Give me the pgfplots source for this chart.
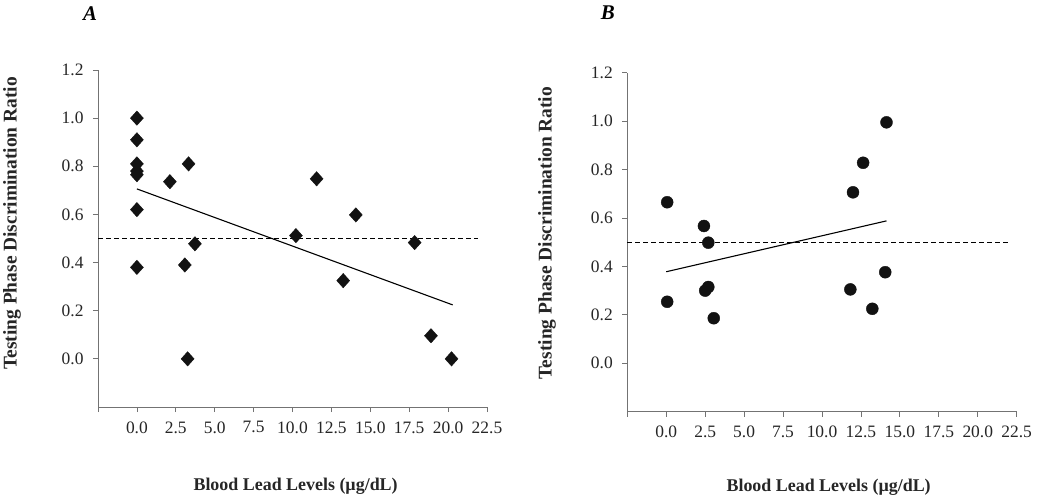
\documentclass[border=0pt]{standalone}
\usepackage{pgfplots}
\pgfplotsset{compat=1.18}
\usepackage{fontspec}
\setmainfont{Liberation Serif}
\definecolor{axgray}{gray}{0.45}
\definecolor{markc}{gray}{0.07}
\begin{document}
\begin{tikzpicture}
\useasboundingbox (0bp,0bp) rectangle (1050bp,498bp);
\pgfplotsset{
  myax/.style={
    scale only axis,
    axis lines*=left,
    xmin=-2.5, xmax=22.5, ymin=-0.2, ymax=1.2,
    xtick={0,2.5,5,7.5,10,12.5,15,17.5,20,22.5},
    extra x ticks={-2.5}, extra x tick labels={},
    ytick={0,0.2,0.4,0.6,0.8,1.0,1.2},
    tick align=outside,
    major tick length=5bp,
    every tick/.style={axgray, line width=0.8bp},
    axis line style={axgray, line width=0.9bp},
    /pgf/number format/assume math mode=true,
    /pgf/number format/.cd, fixed, fixed zerofill, precision=1, /pgfplots/.cd,
    ticklabel style={font=\fontsize{17.5}{19}\selectfont, text=black!85},
    xticklabel style={yshift=-6bp},
    yticklabel style={xshift=-6bp},
    xlabel style={font=\fontsize{18}{20}\selectfont\bfseries, text=black!85},
    ylabel style={font=\fontsize{19.5}{21}\selectfont\bfseries, text=black!85},
    clip=false,
  }
}
\begin{axis}[myax, at={(98bp,91bp)}, anchor=south west, width=389bp, height=337bp,
  xlabel={Blood Lead Levels (µg/dL)},
  ylabel={Testing Phase Discrimination Ratio},
  xlabel style={at={(axis description cs:0.508,-0.236)}, anchor=center},
  ylabel style={at={(axis description cs:-0.221,0.545)}, anchor=center},
]
\addplot[only marks, mark=diamond*, mark size=7.2bp, mark options={fill=markc, draw=markc, xscale=1.2}] coordinates {
(0,1.00) (0,0.91) (0,0.81) (0,0.78) (0,0.765) (0,0.62) (0,0.38)
(2.12,0.736) (3.32,0.81) (3.08,0.39) (3.73,0.478) (3.26,0.0)
(10.22,0.512) (11.55,0.748) (13.26,0.325) (14.07,0.598)
(17.85,0.483) (18.9,0.096) (20.22,0.0)
};
\addplot[black, line width=1.1bp, no marks] coordinates {(0,0.706) (20.3,0.224)};
\addplot[black, line width=0.9bp, no marks, dash pattern=on 5bp off 3bp] coordinates {(-2.5,0.5) (21.9,0.5)};
\node[font=\fontsize{21}{23}\selectfont\bfseries\itshape] at (axis description cs:-0.02,1.166) {A};
\end{axis}
\begin{axis}[myax, at={(627.3bp,86.3bp)}, anchor=south west, width=389.4bp, height=339bp,
  xlabel={Blood Lead Levels (µg/dL)},
  ylabel={Testing Phase Discrimination Ratio},
  xlabel style={at={(axis description cs:0.517,-0.223)}, anchor=center},
  ylabel style={at={(axis description cs:-0.206,0.527)}, anchor=center},
]
\addplot[only marks, mark=*, mark size=6bp, mark options={fill=markc, draw=markc}] coordinates {
(0.06,0.665) (0.06,0.254) (2.42,0.567) (2.70,0.498) (2.5,0.30) (2.7,0.315)
(3.05,0.186) (11.82,0.305) (11.99,0.706) (12.64,0.828) (13.23,0.225)
(14.06,0.376) (14.14,0.995)
};
\addplot[black, line width=1.1bp, no marks] coordinates {(0,0.378) (14.14,0.588)};
\addplot[black, line width=0.9bp, no marks, dash pattern=on 5bp off 3bp] coordinates {(-2.5,0.5) (22.06,0.5)};
\node[font=\fontsize{21}{23}\selectfont\bfseries\itshape] at (axis description cs:-0.05,1.176) {B};
\end{axis}
\end{tikzpicture}
\end{document}
